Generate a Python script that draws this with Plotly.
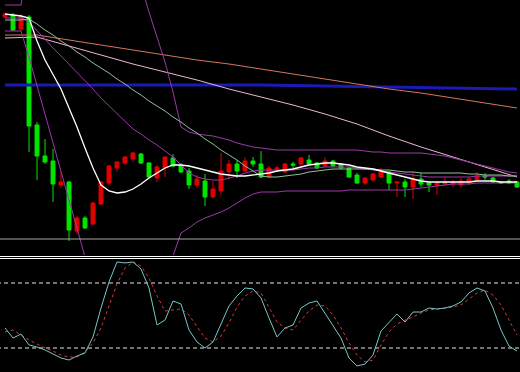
import plotly.graph_objects as go

# ---------------- data ----------------
bars = list(range(65))

open_ = [11.83, 11.85, 11.71, 11.83, 10.75, 10.44, 10.39, 10.15, 10.18, 9.69,
         9.82, 9.76, 9.96, 10.17, 10.32, 10.37, 10.41, 10.46, 10.37, 10.22,
         10.32, 10.42, 10.35, 10.29, 10.15, 10.19, 10.03, 10.09, 10.28, 10.36,
         10.29, 10.39, 10.36, 10.23, 10.31, 10.28, 10.36, 10.36, 10.40, 10.37,
         10.34, 10.39, 10.36, 10.32, 10.25, 10.17, 10.20, 10.23, 10.28, 10.17,
         10.18, 10.13, 10.21, 10.17, 10.15, 10.16, 10.16, 10.15, 10.17, 10.20,
         10.24, 10.22, 10.18, 10.19, 10.18]
high = [11.87, 11.87, 11.86, 11.85, 10.78, 10.61, 10.51, 10.28, 10.19, 9.84,
        9.84, 9.98, 10.19, 10.35, 10.39, 10.44, 10.48, 10.47, 10.38, 10.35,
        10.44, 10.46, 10.37, 10.32, 10.25, 10.26, 10.19, 10.47, 10.40, 10.40,
        10.43, 10.43, 10.49, 10.34, 10.34, 10.37, 10.38, 10.43, 10.45, 10.38,
        10.43, 10.40, 10.37, 10.33, 10.27, 10.23, 10.27, 10.32, 10.28, 10.18,
        10.21, 10.28, 10.27, 10.18, 10.18, 10.23, 10.20, 10.22, 10.23, 10.28,
        10.27, 10.23, 10.19, 10.21, 10.19]
low = [11.82, 11.69, 11.69, 10.48, 10.20, 10.36, 9.98, 10.12, 9.59, 9.66,
       9.71, 9.75, 9.95, 10.15, 10.28, 10.35, 10.38, 10.36, 10.22, 10.18,
       10.23, 10.33, 10.27, 10.11, 10.12, 9.94, 10.02, 10.05, 10.20, 10.22,
       10.28, 10.33, 10.22, 10.22, 10.28, 10.27, 10.32, 10.34, 10.35, 10.31,
       10.33, 10.33, 10.31, 10.22, 10.16, 10.15, 10.18, 10.22, 10.10, 10.03,
       10.03, 10.01, 10.13, 10.08, 10.05, 10.15, 10.13, 10.12, 10.15, 10.19,
       10.20, 10.17, 10.16, 10.16, 10.12]
close = [11.86, 11.70, 11.83, 10.74, 10.44, 10.38, 10.16, 10.18, 9.70, 9.82,
         9.72, 9.97, 10.18, 10.34, 10.38, 10.43, 10.47, 10.37, 10.23, 10.33,
         10.43, 10.34, 10.28, 10.15, 10.21, 10.03, 10.11, 10.29, 10.36, 10.29,
         10.39, 10.36, 10.23, 10.32, 10.32, 10.36, 10.35, 10.42, 10.36, 10.32,
         10.39, 10.34, 10.32, 10.23, 10.17, 10.22, 10.26, 10.28, 10.17, 10.18,
         10.13, 10.21, 10.16, 10.15, 10.17, 10.18, 10.18, 10.19, 10.21, 10.24,
         10.23, 10.18, 10.17, 10.17, 10.13]

ma_white = [11.86, 11.85, 11.84, 11.82, 11.59, 11.40, 11.25, 11.11, 10.92, 10.73,
            10.52, 10.32, 10.15, 10.09, 10.07, 10.08, 10.11, 10.16, 10.22, 10.27,
            10.32, 10.35, 10.35, 10.34, 10.32, 10.30, 10.28, 10.26, 10.25, 10.24,
            10.24, 10.25, 10.26, 10.27, 10.29, 10.30, 10.31, 10.33, 10.35, 10.36,
            10.37, 10.37, 10.36, 10.35, 10.33, 10.32, 10.31, 10.29, 10.27, 10.25,
            10.23, 10.21, 10.19, 10.18, 10.18, 10.18, 10.18, 10.18, 10.18, 10.19,
            10.19, 10.19, 10.18, 10.18, 10.18]
ma_green = [11.80, 11.80, 11.80, 11.81, 11.76, 11.70, 11.65, 11.59, 11.54, 11.48,
            11.43, 11.37, 11.32, 11.27, 11.21, 11.16, 11.10, 11.05, 10.99, 10.94,
            10.89, 10.83, 10.78, 10.72, 10.67, 10.61, 10.56, 10.50, 10.45, 10.40,
            10.34, 10.29, 10.24, 10.23, 10.23, 10.24, 10.25, 10.26, 10.28, 10.29,
            10.30, 10.31, 10.31, 10.31, 10.31, 10.31, 10.31, 10.30, 10.30, 10.29,
            10.28, 10.28, 10.27, 10.27, 10.27, 10.27, 10.27, 10.27, 10.26, 10.26,
            10.25, 10.25, 10.25, 10.24, 10.24]
boll_mid = [11.82, 11.82, 11.82, 11.78, 11.69, 11.61, 11.52, 11.44, 11.36, 11.27,
            11.19, 11.11, 11.02, 10.94, 10.86, 10.79, 10.71, 10.66, 10.60, 10.55,
            10.49, 10.43, 10.35, 10.27, 10.23, 10.21, 10.20, 10.20, 10.22, 10.24,
            10.27, 10.29, 10.30, 10.30, 10.30, 10.30, 10.30, 10.31, 10.32, 10.32,
            10.33, 10.33, 10.33, 10.33, 10.32, 10.31, 10.30, 10.29, 10.28, 10.27,
            10.26, 10.25, 10.24, 10.23, 10.23, 10.23, 10.23, 10.23, 10.23, 10.24,
            10.24, 10.24, 10.24, 10.24, 10.24]
boll_up = [11.95, 11.95, 11.95, 12.50, 13.00, 13.40, 13.70, 13.90, 14.20, 14.30,
           14.30, 14.20, 14.00, 13.70, 13.30, 12.90, 12.50, 12.15, 11.88, 11.62,
           11.38, 11.08, 10.73, 10.68, 10.66, 10.65, 10.64, 10.62, 10.60, 10.57,
           10.55, 10.53, 10.52, 10.51, 10.50, 10.50, 10.50, 10.50, 10.50, 10.50,
           10.50, 10.50, 10.50, 10.50, 10.50, 10.49, 10.48, 10.48, 10.47, 10.47,
           10.47, 10.47, 10.47, 10.46, 10.45, 10.44, 10.42, 10.40, 10.38, 10.36,
           10.34, 10.32, 10.30, 10.28, 10.27]
boll_lo = [11.69, 11.69, 11.69, 11.43, 11.14, 10.86, 10.57, 10.29, 10.00, 9.72,
           9.43, 9.20, 9.00, 8.85, 8.75, 8.70, 8.70, 8.80, 8.95, 9.10,
           9.28, 9.44, 9.67, 9.72, 9.78, 9.82, 9.85, 9.88, 9.92, 9.97,
           10.02, 10.06, 10.08, 10.08, 10.08, 10.09, 10.09, 10.09, 10.09, 10.09,
           10.09, 10.09, 10.09, 10.10, 10.10, 10.10, 10.10, 10.10, 10.10, 10.10,
           10.10, 10.11, 10.12, 10.13, 10.14, 10.15, 10.16, 10.16, 10.16, 10.17,
           10.17, 10.17, 10.17, 10.17, 10.17]

slow_idx = [0, 4, 8, 12, 16, 20, 24, 28, 32, 36, 40, 44, 48, 52, 56, 60, 64]
ma_pink = [11.62, 11.63, 11.54, 11.45, 11.36, 11.28, 11.20, 11.11, 11.03,
           10.95, 10.86, 10.76, 10.64, 10.53, 10.43, 10.33, 10.23]
ma_orange = [11.65, 11.65, 11.60, 11.55, 11.50, 11.45, 11.40, 11.36, 11.31,
             11.26, 11.21, 11.16, 11.11, 11.07, 11.02, 10.97, 10.92]
blue_idx = [0, 16, 32, 40, 48, 56, 64]
ma_blue = [11.15, 11.15, 11.15, 11.14, 11.13, 11.12, 11.11]
support_level = 9.61

stoch_k = [38.5, 29.2, 32.9, 22.8, 20.9, 18.2, 14.5, 10.8, 8.9, 12.6,
           15.4, 30.2, 56.9, 80.9, 99.4, 98.5, 99.4, 92.9, 75.4, 41.2,
           45.8, 63.4, 60.6, 36.6, 25.5, 20.0, 25.5, 42.2, 58.8, 68.0,
           75.4, 74.5, 66.2, 47.7, 30.2, 38.5, 41.2, 56.9, 61.5, 63.4,
           52.3, 41.2, 29.2, 10.8, 3.4, 5.2, 13.5, 35.7, 43.1, 51.4,
           44.0, 53.2, 53.2, 56.9, 56.0, 56.9, 58.8, 62.5, 70.8, 75.4,
           72.6, 56.9, 36.6, 21.8, 17.2]
stoch_d = [34.8, 36.6, 32.0, 27.4, 23.7, 20.0, 17.2, 13.5, 11.7, 11.7,
           16.3, 24.6, 38.5, 58.8, 79.1, 93.8, 99.4, 95.7, 84.6, 68.0,
           54.2, 55.1, 56.0, 50.5, 39.4, 29.2, 25.5, 31.1, 43.1, 57.8,
           68.0, 72.6, 70.8, 56.9, 44.0, 38.5, 36.6, 45.8, 54.2, 59.7,
           58.8, 50.5, 38.5, 24.6, 13.5, 7.1, 8.9, 22.8, 34.8, 42.2,
           45.8, 48.6, 52.3, 55.1, 56.0, 56.9, 57.8, 59.7, 65.2, 70.8,
           73.5, 68.9, 59.7, 45.8, 32.0]
stoch_levels = [20, 80]

# ---------------- figure ----------------
UP = "#e00000"
DOWN = "#00e600"
BOLL = "#9a3aa8"

fig = go.Figure()

def line(x, y, color, width=1, dash=None, axis=("x", "y")):
    fig.add_trace(go.Scatter(x=x, y=y, mode="lines", xaxis=axis[0], yaxis=axis[1],
                             line=dict(color=color, width=width, dash=dash),
                             hoverinfo="skip", showlegend=False))

line(blue_idx, ma_blue, "#1a1ab4", 3)
line(slow_idx, ma_orange, "#d8755e", 1)
line(slow_idx, ma_pink, "#f2b6d6", 1)
line(bars, boll_up, BOLL, 1)
line(bars, boll_mid, BOLL, 1)
line(bars, boll_lo, BOLL, 1)
line(bars, ma_green, "#8fbf9a", 1)

fig.add_trace(go.Candlestick(
    x=bars, open=open_, high=high, low=low, close=close,
    increasing=dict(line=dict(color=UP, width=1), fillcolor=UP),
    decreasing=dict(line=dict(color=DOWN, width=1), fillcolor=DOWN),
    whiskerwidth=0, showlegend=False, hoverinfo="skip"))

line(bars, ma_white, "#ffffff", 1.3)
fig.add_trace(go.Scatter(x=[bars[0] - 1, bars[-1] + 1], y=[support_level] * 2, mode="lines",
                         line=dict(color="#a8a8a8", width=1), hoverinfo="skip", showlegend=False))

# stochastic panel
for lv in stoch_levels:
    line([bars[0] - 1, bars[-1] + 1], [lv, lv], "#e6e6e6", 1, "4px,3px", ("x2", "y2"))
line(bars, stoch_d, "#d23c3c", 1, "3px,3px", ("x2", "y2"))
line(bars, stoch_k, "#78c8c8", 1, None, ("x2", "y2"))

xr = [-0.625, 64.375]
fig.update_layout(
    width=520, height=372,
    margin=dict(l=0, r=0, t=0, b=0),
    paper_bgcolor="#000000", plot_bgcolor="#000000",
    showlegend=False,
    boxgap=0.3,
    xaxis=dict(range=xr, visible=False, rangeslider=dict(visible=False), anchor="y"),
    yaxis=dict(range=[9.45, 12.0], domain=[1 - 255 / 372, 1], visible=False, anchor="x"),
    xaxis2=dict(range=xr, visible=False, anchor="y2", matches="x"),
    yaxis2=dict(range=[-2.15, 102.15], domain=[0, 113 / 372], visible=False, anchor="x2"),
    shapes=[
        dict(type="line", xref="paper", yref="paper", x0=0, x1=1,
             y0=(372 - 256.5) / 372, y1=(372 - 256.5) / 372, line=dict(color="#ffffff", width=1)),
        dict(type="line", xref="paper", yref="paper", x0=0, x1=1,
             y0=(372 - 258.5) / 372, y1=(372 - 258.5) / 372, line=dict(color="#ffffff", width=1)),
    ],
)

fig.write_html("out.html")
